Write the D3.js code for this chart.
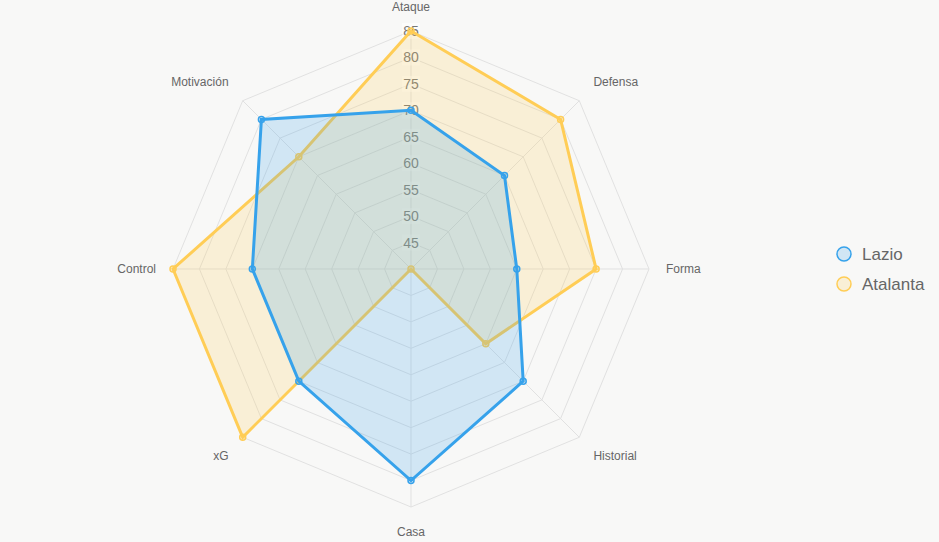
<!DOCTYPE html>
<html>
<head>
<meta charset="utf-8">
<script src="https://cdn.jsdelivr.net/npm/d3@7.9.0/dist/d3.min.js"></script>
<style>
  html, body { margin: 0; padding: 0; background: #f8f8f7; }
  svg { display: block; font-family: "Liberation Sans", Arial, Helvetica, sans-serif; }
</style>
</head>
<body>
<div id="chart"></div>
<script>
// axes and values
const axes = ['Ataque', 'Defensa', 'Forma', 'Historial', 'Casa', 'xG', 'Control', 'Motivación'];
const lazio = [70, 65, 60, 70, 80, 70, 70, 80];
const atalanta = [85, 80, 75, 60, 40, 85, 85, 70];
const ticks = [45, 50, 55, 60, 65, 70, 75, 80, 85];

const series = [
    { name: 'Lazio', values: lazio, stroke: '#36a2eb', fill: 'rgba(54,162,235,0.2)' },
    { name: 'Atalanta', values: atalanta, stroke: '#ffcd56', fill: 'rgba(255,205,86,0.2)' }
];

const width = 939;
const height = 542;
const cx = 411, cy = 269;
const radius = 238;

const svg = d3.select('#chart')
    .append('svg')
    .attr('width', width)
    .attr('height', height)
    .attr('viewBox', `0 0 ${width} ${height}`);

svg.append('rect').attr('width', width).attr('height', height).attr('fill', '#f8f8f7');

const rScale = d3.scaleLinear().domain([40, 85]).range([0, radius]);
const angle = i => (i * 2 * Math.PI) / axes.length;
const pt = (i, v) => [cx + rScale(v) * Math.sin(angle(i)), cy - rScale(v) * Math.cos(angle(i))];

const g = svg.append('g');

// grid rings
g.selectAll('.ring')
    .data(ticks)
    .enter()
    .append('polygon')
    .attr('class', 'ring')
    .attr('points', t => axes.map((a, i) => pt(i, t).join(',')).join(' '))
    .attr('fill', 'none')
    .attr('stroke', '#e1e1e1')
    .attr('stroke-width', 1);

// angle lines
g.selectAll('.spoke')
    .data(axes)
    .enter()
    .append('line')
    .attr('x1', cx).attr('y1', cy)
    .attr('x2', (d, i) => pt(i, 85)[0])
    .attr('y2', (d, i) => pt(i, 85)[1])
    .attr('stroke', '#e1e1e1')
    .attr('stroke-width', 1);

// tick labels with backdrop
const tickG = g.selectAll('.tick')
    .data(ticks)
    .enter()
    .append('g')
    .attr('transform', t => `translate(${cx}, ${cy - rScale(t)})`);

tickG.append('rect')
    .attr('x', -9).attr('y', -8)
    .attr('width', 18).attr('height', 16)
    .attr('fill', 'rgba(255,255,255,0.5)');

tickG.append('text')
    .attr('text-anchor', 'middle')
    .attr('dy', '0.36em')
    .attr('font-size', '14px')
    .attr('fill', '#777')
    .text(t => t);

// point labels
g.selectAll('.plabel')
    .data(axes)
    .enter()
    .append('text')
    .attr('class', 'plabel')
    .attr('x', (d, i) => {
        const s = Math.sin(angle(i));
        const pad = Math.abs(s) > 0.99 ? 17 : 20;
        return cx + (radius + pad) * s;
    })
    .attr('y', (d, i) => cy - (radius + 20) * Math.cos(angle(i)))
    .attr('text-anchor', (d, i) => {
        const s = Math.sin(angle(i));
        return Math.abs(s) < 0.01 ? 'middle' : (s > 0 ? 'start' : 'end');
    })
    .attr('dy', (d, i) => {
        const c = Math.cos(angle(i));
        if (c > 0.99) return '0em';
        if (c < -0.99) return '0.75em';
        return c > 0.5 ? '-0.05em' : (c < -0.5 ? '0.75em' : '0.35em');
    })
    .attr('font-size', '12px')
    .attr('fill', '#666')
    .text(d => d);

// datasets (drawn last-first so Lazio sits on top)
const line = d3.line().curve(d3.curveLinearClosed);
series.slice().reverse().forEach(s => {
    const pts = s.values.map((v, i) => pt(i, v));
    g.append('path')
        .attr('d', line(pts))
        .attr('fill', s.fill)
        .attr('stroke', s.stroke)
        .attr('stroke-width', 3)
        .attr('stroke-linejoin', 'miter');
    g.selectAll(null)
        .data(pts)
        .enter()
        .append('circle')
        .attr('cx', d => d[0])
        .attr('cy', d => d[1])
        .attr('r', 3)
        .attr('fill', s.fill)
        .attr('stroke', s.stroke)
        .attr('stroke-width', 1.5);
});

// legend
const legend = svg.append('g').attr('transform', 'translate(844, 254)');
const item = legend.selectAll('.legend-item')
    .data(series)
    .enter()
    .append('g')
    .attr('transform', (d, i) => `translate(0, ${i * 30})`);

item.append('circle')
    .attr('r', 7)
    .attr('fill', d => d.fill)
    .attr('stroke', d => d.stroke)
    .attr('stroke-width', 1.5);

item.append('text')
    .attr('x', 18)
    .attr('dy', '0.35em')
    .attr('font-size', '17px')
    .attr('fill', '#666')
    .text(d => d.name);
</script>
</body>
</html>
